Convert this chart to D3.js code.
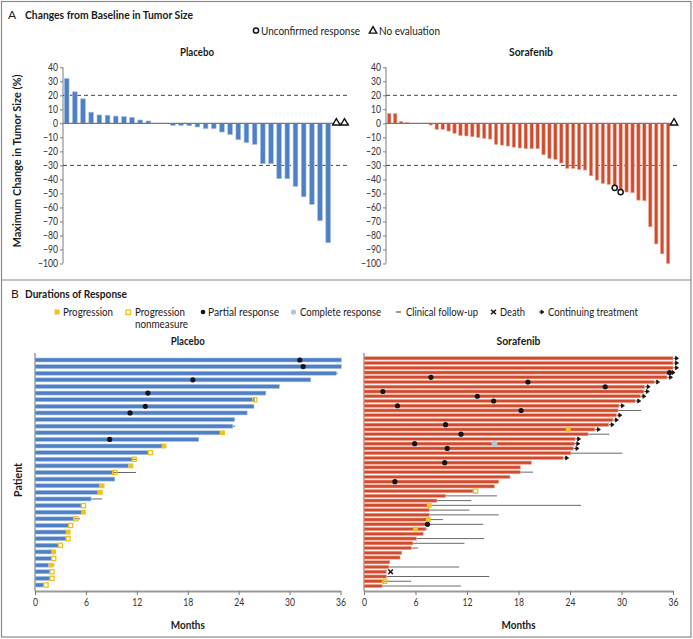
<!DOCTYPE html>
<html><head><meta charset="utf-8">
<script src="https://cdn.jsdelivr.net/npm/d3@7"></script>
<style>body{margin:0;background:#fff}</style>
</head><body><svg id="c" width="693" height="639"></svg>
<script>
// ---------- DATA ----------
// Panel A: maximum change in tumor size (%), null = no evaluation
const placeboChange = [32, 22.5, 17.5, 8, 6, 5.8, 5.2, 4.8, 4.3, 2.4, 1.7, 0, 0, -1.5, -1.5, -1.7, -2.6, -3.8, -3.8, -6.2, -8, -11.7, -13.8, -15, -28.8, -28.8, -39.5, -39.5, -45, -52.4, -57.9, -69.5, -85.2, null, null];
const sorafenibChange = [7.1, 7.1, 1.4, 0.5, 0, 0, 0, -1.2, -4.3, -4.3, -5.5, -7.1, -8.8, -9, -9.5, -10, -10.7, -11.2, -15, -15.5, -16.2, -17, -17.6, -18.1, -18.1, -18.1, -22.4, -25, -25.7, -28.3, -32.1, -32.1, -32.9, -33.3, -37.4, -40.5, -42.9, -43.6, -46, -49, -49, -49.5, -54.8, -55.2, -73.8, -86, -93.1, -100, null];
const placeboUnconfirmed = [];
const sorafenibUnconfirmed = [38, 39];
const changeTicks = [40, 30, 20, 10, 0, -10, -20, -30, -40, -50, -60, -70, -80, -90, -100];
const thresholdLines = [20, -30];

// Panel B: durations (months) per patient row (top to bottom)
const placeboDuration = [36.1, 36.1, 35.5, 32.5, 28.8, 27.2, 25.9, 25.8, 25.0, 23.5, 23.3, 21.8, 19.3, 15.0, 13.4, 11.5, 11.0, 9.3, 9.4, 7.6, 7.4, 6.6, 5.5, 5.5, 4.6, 4.0, 3.7, 3.7, 2.8, 2.0, 2.0, 1.6, 1.8, 1.8, 1.0];
const placeboPartial = [[1, 31.2], [2, 31.6], [4, 18.6], [6, 13.3], [8, 13.0], [9, 11.2], [13, 8.8]];
const placeboComplete = [];
const placeboProgression = [[12, 22.1], [14, 15.2], [17, 11.3], [20, 7.9], [21, 7.7], [24, 5.7], [27, 3.9], [30, 2.2], [32, 1.9]];
const placeboNonmeasure = [[7, 25.9], [15, 13.6], [16, 11.7], [18, 9.4], [23, 5.7], [25, 4.8], [26, 4.2], [28, 3.9], [29, 3.0], [31, 2.2], [33, 2.0], [34, 2.0], [35, 1.3]];
const placeboFollowUp = [[3, 35.7], [10, 23.6], [11, 23.6], [16, 11.9], [18, 11.9], [22, 7.9], [25, 5.3], [32, 2.3]];
const placeboDeath = [];
const placeboContinuing = [];

const sorafenibDuration = [36.0, 36.0, 36.0, 35.6, 35.3, 33.8, 32.7, 32.6, 32.2, 31.6, 29.7, 29.6, 29.4, 29.0, 28.5, 26.9, 26.1, 24.6, 24.5, 24.4, 24.1, 23.2, 19.5, 18.2, 18.2, 17.0, 15.7, 15.2, 12.7, 9.5, 8.5, 7.6, 7.6, 7.6, 7.5, 7.3, 7.2, 6.9, 6.1, 5.7, 5.5, 4.4, 4.2, 3.0, 2.9, 2.6, 2.6, 2.3, 2.1];
const sorafenibPartial = [[4, 35.6], [5, 7.8], [6, 19.1], [7, 28.1], [8, 2.2], [9, 13.2], [10, 15.1], [11, 3.9], [12, 18.3], [15, 9.5], [17, 11.3], [19, 5.9], [20, 9.7], [23, 9.4], [27, 3.6], [36, 7.4]];
const sorafenibComplete = [[19, 15.2]];
const sorafenibProgression = [[16, 23.8], [32, 7.6], [35, 7.5], [37, 6.0]];
const sorafenibNonmeasure = [[29, 13.0], [48, 2.4]];
const sorafenibFollowUp = [[12, 32.3], [17, 28.6], [21, 30.1], [25, 19.7], [30, 15.5], [31, 12.5], [32, 25.3], [33, 12.3], [34, 15.7], [35, 9.2], [36, 13.9], [37, 7.4], [39, 14.0], [40, 11.7], [41, 6.3], [45, 11.1], [47, 14.6], [48, 5.5], [49, 11.3]];
const sorafenibDeath = [[46, 3.1]];
const sorafenibContinuing = [1, 2, 3, 4, 5, 6, 7, 8, 9, 10, 11, 13, 14, 15, 16, 18, 19, 20, 22];
const monthTicks = [0, 6, 12, 18, 24, 30, 36];

// ---------- STYLE ----------
const FONT = "Lato,'Open Sans',sans-serif";
const BLUE = "#4f7fc4", BLUE_EDGE = "#a9c2e6";
const RED = "#d04a2d", RED_EDGE = "#eea593";
const YELLOW = "#f0c21c", LIGHTBLUE = "#a9c9dc";
const AXIS = "#7d7d7d";

const svg = d3.select("#c").style("font-family", FONT);
svg.append("rect").attr("width", 693).attr("height", 639).attr("fill", "#fff");

// condense a text element to a target width (or by a factor of its natural width)
function fit(sel, width, factor) {
  sel.each(function () {
    const w = this.getComputedTextLength();
    const t = width != null ? width : w * factor;
    d3.select(this).attr("textLength", t).attr("lengthAdjust", "spacingAndGlyphs");
  });
  return sel;
}

// frame
svg.append("rect").attr("x", 1.5).attr("y", 1.5).attr("width", 689.5).attr("height", 635.5)
  .attr("fill", "none").attr("stroke", "#8a8a8a").attr("stroke-width", 1.2);
svg.append("line").attr("x1", 1.5).attr("x2", 691).attr("y1", 280).attr("y2", 280)
  .attr("stroke", "#8a8a8a").attr("stroke-width", 1.2);

function txt(x, y, s, o = {}) {
  const t = svg.append("text").attr("x", x).attr("y", y).text(s)
    .attr("font-size", o.size || 10.5).attr("font-weight", o.bold ? "bold" : "normal")
    .attr("text-anchor", o.anchor || "start").attr("fill", "#1a1a1a");
  if (o.w) fit(t, o.w);
  return t;
}

// ---------- PANEL A ----------
txt(8, 19, "A", { size: 12 });
txt(25, 19, "Changes from Baseline in Tumor Size", { size: 11, bold: true, w: 168 });

// legend A
svg.append("circle").attr("cx", 256).attr("cy", 30.5).attr("r", 2.6).attr("fill", "#fff").attr("stroke", "#111").attr("stroke-width", 1.5);
txt(261, 34.5, "Unconfirmed response", { size: 10.5, w: 99 });
svg.append("path").attr("d", d3.symbol(d3.symbolTriangle, 24)()).attr("transform", "translate(373,31)")
  .attr("fill", "#fff").attr("stroke", "#111").attr("stroke-width", 1.4);
txt(379, 34.5, "No evaluation", { size: 10.5, w: 61 });

const yW = d3.scaleLinear().domain([-100, 40]).range([263.5, 67.3]);

function waterfall(vals, unconf, axisX, x0, x1, pad, color, edge, title, titleX, titleW) {
  const x = d3.scaleBand().domain(d3.range(vals.length)).range([x0, x1]).paddingInner(pad).paddingOuter(pad / 2);
  txt(titleX, 56, title, { size: 11, bold: true, anchor: "middle", w: titleW });
  const g = svg.append("g");
  const ax = g.append("g").attr("transform", `translate(${axisX},0)`)
    .call(d3.axisLeft(yW).tickValues(changeTicks).tickSize(3).tickPadding(2));
  ax.selectAll("path,line").attr("stroke", AXIS);
  ax.select(".domain").attr("d", `M-0,${yW(40)}V${yW(-100)}`);
  ax.selectAll("text").attr("font-size", 10.5).attr("font-family", FONT).attr("fill", "#333");
  fit(ax.selectAll("text"), null, 0.82);
  g.selectAll(".thr").data(thresholdLines).join("line")
    .attr("x1", axisX).attr("x2", x1).attr("y1", d => yW(d)).attr("y2", d => yW(d))
    .attr("stroke", "#444").attr("stroke-width", 1).attr("stroke-dasharray", "4,3");
  const data = vals.map((v, i) => ({ v, i })).filter(d => d.v !== null && d.v !== 0);
  g.selectAll(".bar").data(data).join("rect")
    .attr("x", d => x(d.i)).attr("width", x.bandwidth())
    .attr("y", d => yW(Math.max(0, d.v))).attr("height", d => Math.abs(yW(d.v) - yW(0)))
    .attr("fill", color).attr("stroke", edge).attr("stroke-width", 0.6);
  g.append("line").attr("x1", axisX).attr("x2", x1).attr("y1", yW(0)).attr("y2", yW(0))
    .attr("stroke", "#777").attr("stroke-width", 1.3);
  const ne = vals.map((v, i) => ({ v, i })).filter(d => d.v === null);
  g.selectAll(".tri").data(ne).join("path")
    .attr("d", d3.symbol(d3.symbolTriangle, 24)())
    .attr("transform", d => `translate(${x(d.i) + x.bandwidth() / 2},${yW(0) - 0.5})`)
    .attr("fill", "#fff").attr("stroke", "#111").attr("stroke-width", 1.4);
  g.selectAll(".unc").data(unconf).join("circle")
    .attr("cx", i => x(i) + x.bandwidth() / 2).attr("cy", i => yW(vals[i]))
    .attr("r", 2.6).attr("fill", "#fff").attr("stroke", "#111").attr("stroke-width", 1.5);
}

waterfall(placeboChange, placeboUnconfirmed, 63, 62.6, 348.6, 0.42, BLUE, BLUE_EDGE, "Placebo", 197, 34);
waterfall(sorafenibChange, sorafenibUnconfirmed, 386, 386.3, 677, 0.44, RED, RED_EDGE, "Sorafenib", 531, 44);

fit(svg.append("text").attr("transform", "translate(21,161) rotate(-90)")
  .attr("text-anchor", "middle").attr("font-size", 11).attr("font-weight", "bold").attr("fill", "#1a1a1a")
  .text("Maximum Change in Tumor Size (%)"), 173);

// ---------- PANEL B ----------
txt(11, 298, "B", { size: 12 });
txt(25, 298, "Durations of Response", { size: 11, bold: true, w: 102 });

function arrowPath(x, y) {
  return `M${x},${y}L${x + 3},${y}M${x + 2},${y - 2}L${x + 5},${y}L${x + 2},${y + 2}Z`;
}

const LY = 312;
svg.append("rect").attr("x", 54.5).attr("y", LY - 2.5).attr("width", 5).attr("height", 5).attr("fill", YELLOW);
txt(63, LY + 3.8, "Progression", { size: 10.5, w: 50 });
svg.append("rect").attr("x", 126).attr("y", LY - 2).attr("width", 4.5).attr("height", 4.5).attr("fill", "#fff").attr("stroke", YELLOW).attr("stroke-width", 1.3);
txt(135, LY + 3.8, "Progression", { size: 10.5, w: 50 });
txt(135, LY + 15.5, "nonmeasure", { size: 10.5, w: 53 });
svg.append("circle").attr("cx", 203).attr("cy", LY).attr("r", 2.3).attr("fill", "#111");
txt(208, LY + 3.8, "Partial response", { size: 10.5, w: 71 });
svg.append("circle").attr("cx", 293.5).attr("cy", LY).attr("r", 2.6).attr("fill", LIGHTBLUE);
txt(300, LY + 3.8, "Complete response", { size: 10.5, w: 81 });
svg.append("line").attr("x1", 396).attr("x2", 401).attr("y1", LY).attr("y2", LY).attr("stroke", "#333").attr("stroke-width", 1);
txt(406, LY + 3.8, "Clinical follow-up", { size: 10.5, w: 72 });
svg.append("path").attr("d", `M491,${LY - 2.3}L496,${LY + 2.3}M496,${LY - 2.3}L491,${LY + 2.3}`).attr("stroke", "#111").attr("stroke-width", 1.5);
txt(500, LY + 3.8, "Death", { size: 10.5, w: 25 });
svg.append("path").attr("d", arrowPath(539, LY)).attr("fill", "#111").attr("stroke", "#111").attr("stroke-width", 0.8);
txt(548, LY + 3.8, "Continuing treatment", { size: 10.5, w: 90 });

function swimmer(o) {
  const x = d3.scaleLinear().domain([0, 36]).range([o.ax, o.ax1]);
  const rows = d3.range(1, o.dur.length + 1);
  const y = d3.scalePoint().domain(rows).range([o.y0, o.y1]);
  const g = svg.append("g");
  txt((o.ax + o.ax1) / 2, 345, o.title, { size: 11, bold: true, anchor: "middle", w: o.titleW });
  g.append("line").attr("x1", o.ax).attr("x2", o.ax).attr("y1", 353).attr("y2", 591).attr("stroke", "#666").attr("stroke-width", 1);
  g.selectAll(".fu").data(o.follow).join("line")
    .attr("x1", d => x(o.dur[d[0] - 1])).attr("x2", d => x(d[1]))
    .attr("y1", d => y(d[0])).attr("y2", d => y(d[0]))
    .attr("stroke", "#6a6a6a").attr("stroke-width", 1);
  g.selectAll(".bar").data(rows).join("rect")
    .attr("x", o.ax).attr("y", r => y(r) - o.bh / 2)
    .attr("width", r => x(o.dur[r - 1]) - o.ax).attr("height", o.bh)
    .attr("fill", o.color).attr("stroke", o.edge).attr("stroke-width", 0.6);
  g.selectAll(".arr").data(o.cont).join("path")
    .attr("d", r => arrowPath(x(o.dur[r - 1]) + 0.5, y(r)))
    .attr("fill", "#111").attr("stroke", "#111").attr("stroke-width", 0.8);
  g.selectAll(".pr").data(o.prog).join("rect")
    .attr("x", d => x(d[1]) - 2.4).attr("y", d => y(d[0]) - 2.4).attr("width", 4.8).attr("height", 4.8)
    .attr("fill", YELLOW);
  g.selectAll(".nm").data(o.nonm).join("rect")
    .attr("x", d => x(d[1]) - 2.1).attr("y", d => y(d[0]) - 2.1).attr("width", 4.2).attr("height", 4.2)
    .attr("fill", "none").attr("stroke", YELLOW).attr("stroke-width", 1.3);
  g.selectAll(".pa").data(o.partial).join("circle")
    .attr("cx", d => x(d[1])).attr("cy", d => y(d[0])).attr("r", 2.6).attr("fill", "#151515");
  g.selectAll(".cr").data(o.complete).join("circle")
    .attr("cx", d => x(d[1])).attr("cy", d => y(d[0])).attr("r", 2.9).attr("fill", LIGHTBLUE);
  g.selectAll(".de").data(o.death).join("path")
    .attr("d", d => { const cx = x(d[1]), cy = y(d[0]); return `M${cx - 2.3},${cy - 2.3}L${cx + 2.3},${cy + 2.3}M${cx + 2.3},${cy - 2.3}L${cx - 2.3},${cy + 2.3}`; })
    .attr("stroke", "#111").attr("stroke-width", 1.5);
  const ax = g.append("g").attr("transform", "translate(0,591)")
    .call(d3.axisBottom(x).tickValues(monthTicks).tickSize(4).tickPadding(4).tickSizeOuter(0));
  ax.select(".domain").attr("stroke", "#9a9a9a").attr("stroke-width", 2);
  ax.selectAll(".tick line").attr("stroke", "#777");
  ax.selectAll("text").attr("font-size", 10.5).attr("font-family", FONT).attr("fill", "#333");
  fit(ax.selectAll("text"), null, 0.82);
  txt((o.ax + o.ax1) / 2, 629, "Months", { size: 11, bold: true, anchor: "middle", w: 34 });
}

swimmer({ title: "Placebo", titleW: 34, ax: 35, ax1: 340.5, y0: 360, y1: 585, bh: 4, color: BLUE, edge: BLUE_EDGE,
  dur: placeboDuration, partial: placeboPartial, complete: placeboComplete, prog: placeboProgression,
  nonm: placeboNonmeasure, follow: placeboFollowUp, death: placeboDeath, cont: placeboContinuing });
swimmer({ title: "Sorafenib", titleW: 44, ax: 364, ax1: 673, y0: 358.3, y1: 586, bh: 3.2, color: RED, edge: RED_EDGE,
  dur: sorafenibDuration, partial: sorafenibPartial, complete: sorafenibComplete, prog: sorafenibProgression,
  nonm: sorafenibNonmeasure, follow: sorafenibFollowUp, death: sorafenibDeath, cont: sorafenibContinuing });

fit(svg.append("text").attr("transform", "translate(22,480) rotate(-90)")
  .attr("text-anchor", "middle").attr("font-size", 11).attr("font-weight", "bold").attr("fill", "#1a1a1a")
  .text("Patient"), 34);
</script>
</body></html>
